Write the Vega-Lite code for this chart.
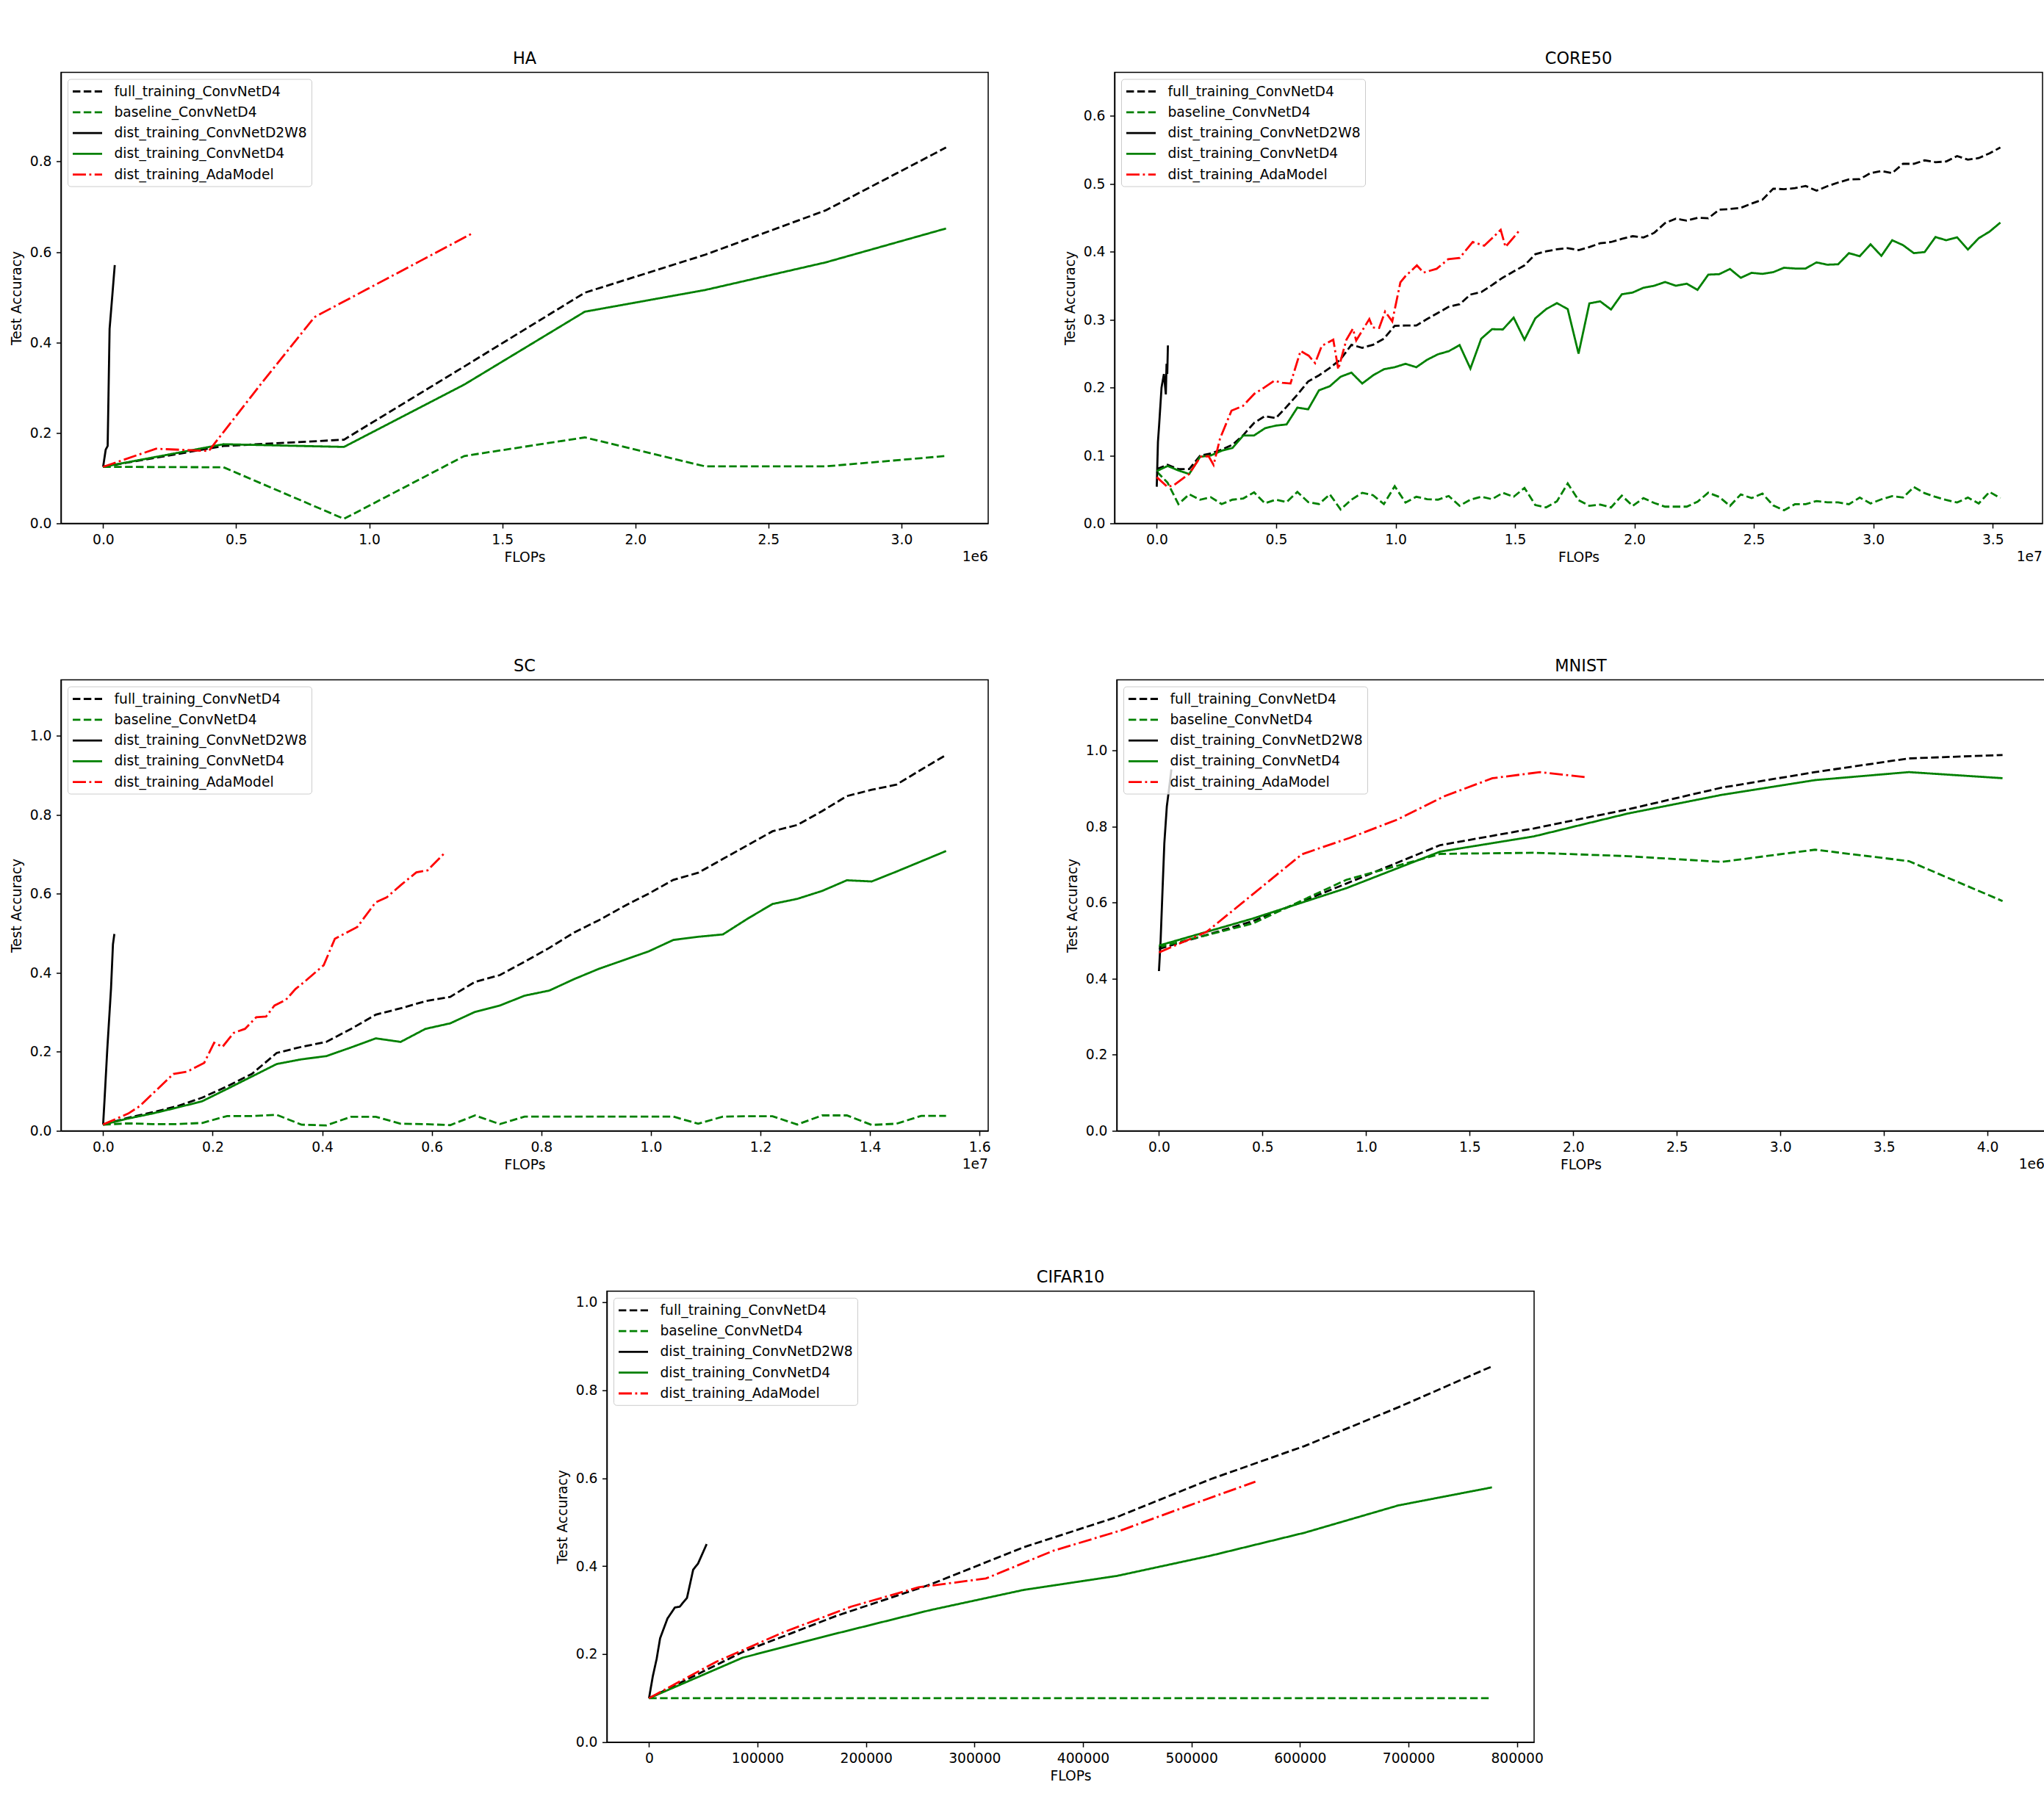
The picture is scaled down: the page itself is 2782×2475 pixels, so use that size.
{
"$schema": "https://vega.github.io/schema/vega-lite/v6.json",
"padding": {"left": 12, "top": 67.5, "right": 0, "bottom": 0},
"background": "#ffffff",
"datasets": {
"ha": [
{"s":"full_training_ConvNetD4","x":0,"y":0.125},{"s":"full_training_ConvNetD4","x":452500,"y":0.171},{"s":"full_training_ConvNetD4","x":905000,"y":0.185},{"s":"full_training_ConvNetD4","x":1357500,"y":0.347},{"s":"full_training_ConvNetD4","x":1810000,"y":0.510},{"s":"full_training_ConvNetD4","x":2262500,"y":0.594},{"s":"full_training_ConvNetD4","x":2715000,"y":0.692},{"s":"full_training_ConvNetD4","x":3167500,"y":0.831},
{"s":"baseline_ConvNetD4","x":0,"y":0.125},{"s":"baseline_ConvNetD4","x":452500,"y":0.124},{"s":"baseline_ConvNetD4","x":905000,"y":0.010},{"s":"baseline_ConvNetD4","x":1357500,"y":0.149},{"s":"baseline_ConvNetD4","x":1810000,"y":0.190},{"s":"baseline_ConvNetD4","x":2262500,"y":0.126},{"s":"baseline_ConvNetD4","x":2715000,"y":0.126},{"s":"baseline_ConvNetD4","x":3167500,"y":0.149},
{"s":"dist_training_ConvNetD2W8","x":0,"y":0.125},{"s":"dist_training_ConvNetD2W8","x":9700,"y":0.163},{"s":"dist_training_ConvNetD2W8","x":17000,"y":0.171},{"s":"dist_training_ConvNetD2W8","x":24300,"y":0.43},{"s":"dist_training_ConvNetD2W8","x":34000,"y":0.5},{"s":"dist_training_ConvNetD2W8","x":43700,"y":0.571},
{"s":"dist_training_ConvNetD4","x":0,"y":0.125},{"s":"dist_training_ConvNetD4","x":452500,"y":0.175},{"s":"dist_training_ConvNetD4","x":905000,"y":0.169},{"s":"dist_training_ConvNetD4","x":1357500,"y":0.307},{"s":"dist_training_ConvNetD4","x":1810000,"y":0.468},{"s":"dist_training_ConvNetD4","x":2262500,"y":0.516},{"s":"dist_training_ConvNetD4","x":2715000,"y":0.577},{"s":"dist_training_ConvNetD4","x":3167500,"y":0.652},
{"s":"dist_training_AdaModel","x":0,"y":0.125},{"s":"dist_training_AdaModel","x":198500,"y":0.165},{"s":"dist_training_AdaModel","x":397000,"y":0.160},{"s":"dist_training_AdaModel","x":595500,"y":0.310},{"s":"dist_training_AdaModel","x":794000,"y":0.456},{"s":"dist_training_AdaModel","x":992500,"y":0.518},{"s":"dist_training_AdaModel","x":1191000,"y":0.580},{"s":"dist_training_AdaModel","x":1389500,"y":0.642}
],
"core50": [
{"s":"full_training_ConvNetD4","x":0,"y":0.080},{"s":"full_training_ConvNetD4","x":452800,"y":0.0863},{"s":"full_training_ConvNetD4","x":905600,"y":0.080},{"s":"full_training_ConvNetD4","x":1358400,"y":0.080},{"s":"full_training_ConvNetD4","x":1811200,"y":0.0996},{"s":"full_training_ConvNetD4","x":2264000,"y":0.103},{"s":"full_training_ConvNetD4","x":2716800,"y":0.1086},{"s":"full_training_ConvNetD4","x":3169600,"y":0.1158},{"s":"full_training_ConvNetD4","x":3622400,"y":0.130},{"s":"full_training_ConvNetD4","x":4075200,"y":0.148},{"s":"full_training_ConvNetD4","x":4528000,"y":0.158},{"s":"full_training_ConvNetD4","x":4980800,"y":0.155},{"s":"full_training_ConvNetD4","x":5433600,"y":0.1716},{"s":"full_training_ConvNetD4","x":5886400,"y":0.1896},{"s":"full_training_ConvNetD4","x":6339200,"y":0.209},{"s":"full_training_ConvNetD4","x":6792000,"y":0.218},{"s":"full_training_ConvNetD4","x":7244800,"y":0.229},{"s":"full_training_ConvNetD4","x":7697600,"y":0.2417},{"s":"full_training_ConvNetD4","x":8150400,"y":0.263},{"s":"full_training_ConvNetD4","x":8603200,"y":0.2586},{"s":"full_training_ConvNetD4","x":9056000,"y":0.263},{"s":"full_training_ConvNetD4","x":9508800,"y":0.272},{"s":"full_training_ConvNetD4","x":9961600,"y":0.291},{"s":"full_training_ConvNetD4","x":10414400,"y":0.2914},{"s":"full_training_ConvNetD4","x":10867200,"y":0.2914},{"s":"full_training_ConvNetD4","x":11320000,"y":0.301},{"s":"full_training_ConvNetD4","x":11772800,"y":0.310},{"s":"full_training_ConvNetD4","x":12225600,"y":0.319},{"s":"full_training_ConvNetD4","x":12678400,"y":0.3227},{"s":"full_training_ConvNetD4","x":13131200,"y":0.337},{"s":"full_training_ConvNetD4","x":13584000,"y":0.3406},{"s":"full_training_ConvNetD4","x":14036800,"y":0.351},{"s":"full_training_ConvNetD4","x":14489600,"y":0.362},{"s":"full_training_ConvNetD4","x":14942400,"y":0.371},{"s":"full_training_ConvNetD4","x":15395200,"y":0.380},{"s":"full_training_ConvNetD4","x":15848000,"y":0.3964},{"s":"full_training_ConvNetD4","x":16300800,"y":0.4007},{"s":"full_training_ConvNetD4","x":16753600,"y":0.4036},{"s":"full_training_ConvNetD4","x":17206400,"y":0.4054},{"s":"full_training_ConvNetD4","x":17659200,"y":0.4025},{"s":"full_training_ConvNetD4","x":18112000,"y":0.407},{"s":"full_training_ConvNetD4","x":18564800,"y":0.4126},{"s":"full_training_ConvNetD4","x":19017600,"y":0.4144},{"s":"full_training_ConvNetD4","x":19470400,"y":0.419},{"s":"full_training_ConvNetD4","x":19923200,"y":0.423},{"s":"full_training_ConvNetD4","x":20376000,"y":0.421},{"s":"full_training_ConvNetD4","x":20828800,"y":0.428},{"s":"full_training_ConvNetD4","x":21281600,"y":0.4423},{"s":"full_training_ConvNetD4","x":21734400,"y":0.4488},{"s":"full_training_ConvNetD4","x":22187200,"y":0.446},{"s":"full_training_ConvNetD4","x":22640000,"y":0.450},{"s":"full_training_ConvNetD4","x":23092800,"y":0.4495},{"s":"full_training_ConvNetD4","x":23545600,"y":0.462},{"s":"full_training_ConvNetD4","x":23998400,"y":0.463},{"s":"full_training_ConvNetD4","x":24451200,"y":0.4647},{"s":"full_training_ConvNetD4","x":24904000,"y":0.471},{"s":"full_training_ConvNetD4","x":25356800,"y":0.4767},{"s":"full_training_ConvNetD4","x":25809600,"y":0.493},{"s":"full_training_ConvNetD4","x":26262400,"y":0.4922},{"s":"full_training_ConvNetD4","x":26715200,"y":0.4937},{"s":"full_training_ConvNetD4","x":27168000,"y":0.497},{"s":"full_training_ConvNetD4","x":27620800,"y":0.490},{"s":"full_training_ConvNetD4","x":28073600,"y":0.4966},{"s":"full_training_ConvNetD4","x":28526400,"y":0.502},{"s":"full_training_ConvNetD4","x":28979200,"y":0.5066},{"s":"full_training_ConvNetD4","x":29432000,"y":0.507},{"s":"full_training_ConvNetD4","x":29884800,"y":0.516},{"s":"full_training_ConvNetD4","x":30337600,"y":0.519},{"s":"full_training_ConvNetD4","x":30790400,"y":0.516},{"s":"full_training_ConvNetD4","x":31243200,"y":0.5296},{"s":"full_training_ConvNetD4","x":31696000,"y":0.5296},{"s":"full_training_ConvNetD4","x":32148800,"y":0.5347},{"s":"full_training_ConvNetD4","x":32601600,"y":0.532},{"s":"full_training_ConvNetD4","x":33054400,"y":0.533},{"s":"full_training_ConvNetD4","x":33507200,"y":0.541},{"s":"full_training_ConvNetD4","x":33960000,"y":0.5357},{"s":"full_training_ConvNetD4","x":34412800,"y":0.538},{"s":"full_training_ConvNetD4","x":34865600,"y":0.545},{"s":"full_training_ConvNetD4","x":35318400,"y":0.5536},
{"s":"baseline_ConvNetD4","x":0,"y":0.0763},{"s":"baseline_ConvNetD4","x":452800,"y":0.060},{"s":"baseline_ConvNetD4","x":905600,"y":0.0284},{"s":"baseline_ConvNetD4","x":1358400,"y":0.0428},{"s":"baseline_ConvNetD4","x":1811200,"y":0.0349},{"s":"baseline_ConvNetD4","x":2264000,"y":0.0385},{"s":"baseline_ConvNetD4","x":2716800,"y":0.0284},{"s":"baseline_ConvNetD4","x":3169600,"y":0.0349},{"s":"baseline_ConvNetD4","x":3622400,"y":0.0367},{"s":"baseline_ConvNetD4","x":4075200,"y":0.0457},{"s":"baseline_ConvNetD4","x":4528000,"y":0.0295},{"s":"baseline_ConvNetD4","x":4980800,"y":0.0349},{"s":"baseline_ConvNetD4","x":5433600,"y":0.0313},{"s":"baseline_ConvNetD4","x":5886400,"y":0.0464},{"s":"baseline_ConvNetD4","x":6339200,"y":0.0313},{"s":"baseline_ConvNetD4","x":6792000,"y":0.0284},{"s":"baseline_ConvNetD4","x":7244800,"y":0.0428},{"s":"baseline_ConvNetD4","x":7697600,"y":0.0205},{"s":"baseline_ConvNetD4","x":8150400,"y":0.0349},{"s":"baseline_ConvNetD4","x":8603200,"y":0.045},{"s":"baseline_ConvNetD4","x":9056000,"y":0.0414},{"s":"baseline_ConvNetD4","x":9508800,"y":0.0284},{"s":"baseline_ConvNetD4","x":9961600,"y":0.0547},{"s":"baseline_ConvNetD4","x":10414400,"y":0.0306},{"s":"baseline_ConvNetD4","x":10867200,"y":0.0392},{"s":"baseline_ConvNetD4","x":11320000,"y":0.0356},{"s":"baseline_ConvNetD4","x":11772800,"y":0.0349},{"s":"baseline_ConvNetD4","x":12225600,"y":0.0403},{"s":"baseline_ConvNetD4","x":12678400,"y":0.0259},{"s":"baseline_ConvNetD4","x":13131200,"y":0.0349},{"s":"baseline_ConvNetD4","x":13584000,"y":0.0392},{"s":"baseline_ConvNetD4","x":14036800,"y":0.0356},{"s":"baseline_ConvNetD4","x":14489600,"y":0.045},{"s":"baseline_ConvNetD4","x":14942400,"y":0.0392},{"s":"baseline_ConvNetD4","x":15395200,"y":0.0522},{"s":"baseline_ConvNetD4","x":15848000,"y":0.0270},{"s":"baseline_ConvNetD4","x":16300800,"y":0.0235},{"s":"baseline_ConvNetD4","x":16753600,"y":0.0325},{"s":"baseline_ConvNetD4","x":17206400,"y":0.0587},{"s":"baseline_ConvNetD4","x":17659200,"y":0.0342},{"s":"baseline_ConvNetD4","x":18112000,"y":0.0258},{"s":"baseline_ConvNetD4","x":18564800,"y":0.0277},{"s":"baseline_ConvNetD4","x":19017600,"y":0.0234},{"s":"baseline_ConvNetD4","x":19470400,"y":0.0409},{"s":"baseline_ConvNetD4","x":19923200,"y":0.0257},{"s":"baseline_ConvNetD4","x":20376000,"y":0.0372},{"s":"baseline_ConvNetD4","x":20828800,"y":0.030},{"s":"baseline_ConvNetD4","x":21281600,"y":0.0246},{"s":"baseline_ConvNetD4","x":21734400,"y":0.0246},{"s":"baseline_ConvNetD4","x":22187200,"y":0.0246},{"s":"baseline_ConvNetD4","x":22640000,"y":0.0318},{"s":"baseline_ConvNetD4","x":23092800,"y":0.0452},{"s":"baseline_ConvNetD4","x":23545600,"y":0.039},{"s":"baseline_ConvNetD4","x":23998400,"y":0.0257},{"s":"baseline_ConvNetD4","x":24451200,"y":0.0427},{"s":"baseline_ConvNetD4","x":24904000,"y":0.0372},{"s":"baseline_ConvNetD4","x":25356800,"y":0.0438},{"s":"baseline_ConvNetD4","x":25809600,"y":0.0264},{"s":"baseline_ConvNetD4","x":26262400,"y":0.0192},{"s":"baseline_ConvNetD4","x":26715200,"y":0.0282},{"s":"baseline_ConvNetD4","x":27168000,"y":0.0282},{"s":"baseline_ConvNetD4","x":27620800,"y":0.0329},{"s":"baseline_ConvNetD4","x":28073600,"y":0.031},{"s":"baseline_ConvNetD4","x":28526400,"y":0.031},{"s":"baseline_ConvNetD4","x":28979200,"y":0.0282},{"s":"baseline_ConvNetD4","x":29432000,"y":0.038},{"s":"baseline_ConvNetD4","x":29884800,"y":0.0293},{"s":"baseline_ConvNetD4","x":30337600,"y":0.0354},{"s":"baseline_ConvNetD4","x":30790400,"y":0.0401},{"s":"baseline_ConvNetD4","x":31243200,"y":0.038},{"s":"baseline_ConvNetD4","x":31696000,"y":0.0535},{"s":"baseline_ConvNetD4","x":32148800,"y":0.0445},{"s":"baseline_ConvNetD4","x":32601600,"y":0.039},{"s":"baseline_ConvNetD4","x":33054400,"y":0.0344},{"s":"baseline_ConvNetD4","x":33507200,"y":0.0307},{"s":"baseline_ConvNetD4","x":33960000,"y":0.038},{"s":"baseline_ConvNetD4","x":34412800,"y":0.0293},{"s":"baseline_ConvNetD4","x":34865600,"y":0.0463},{"s":"baseline_ConvNetD4","x":35318400,"y":0.0372},
{"s":"dist_training_ConvNetD2W8","x":0,"y":0.054},{"s":"dist_training_ConvNetD2W8","x":50000,"y":0.12},{"s":"dist_training_ConvNetD2W8","x":100000,"y":0.145},{"s":"dist_training_ConvNetD2W8","x":200000,"y":0.2},{"s":"dist_training_ConvNetD2W8","x":300000,"y":0.22},{"s":"dist_training_ConvNetD2W8","x":380000,"y":0.19},{"s":"dist_training_ConvNetD2W8","x":410000,"y":0.235},{"s":"dist_training_ConvNetD2W8","x":440000,"y":0.22},{"s":"dist_training_ConvNetD2W8","x":467000,"y":0.262},
{"s":"dist_training_ConvNetD4","x":0,"y":0.077},{"s":"dist_training_ConvNetD4","x":452800,"y":0.0845},{"s":"dist_training_ConvNetD4","x":905600,"y":0.078},{"s":"dist_training_ConvNetD4","x":1358400,"y":0.0727},{"s":"dist_training_ConvNetD4","x":1811200,"y":0.098},{"s":"dist_training_ConvNetD4","x":2264000,"y":0.100},{"s":"dist_training_ConvNetD4","x":2716800,"y":0.107},{"s":"dist_training_ConvNetD4","x":3169600,"y":0.111},{"s":"dist_training_ConvNetD4","x":3622400,"y":0.1295},{"s":"dist_training_ConvNetD4","x":4075200,"y":0.1295},{"s":"dist_training_ConvNetD4","x":4528000,"y":0.140},{"s":"dist_training_ConvNetD4","x":4980800,"y":0.144},{"s":"dist_training_ConvNetD4","x":5433600,"y":0.1457},{"s":"dist_training_ConvNetD4","x":5886400,"y":0.1705},{"s":"dist_training_ConvNetD4","x":6339200,"y":0.168},{"s":"dist_training_ConvNetD4","x":6792000,"y":0.196},{"s":"dist_training_ConvNetD4","x":7244800,"y":0.202},{"s":"dist_training_ConvNetD4","x":7697600,"y":0.216},{"s":"dist_training_ConvNetD4","x":8150400,"y":0.222},{"s":"dist_training_ConvNetD4","x":8603200,"y":0.206},{"s":"dist_training_ConvNetD4","x":9056000,"y":0.218},{"s":"dist_training_ConvNetD4","x":9508800,"y":0.227},{"s":"dist_training_ConvNetD4","x":9961600,"y":0.230},{"s":"dist_training_ConvNetD4","x":10414400,"y":0.235},{"s":"dist_training_ConvNetD4","x":10867200,"y":0.230},{"s":"dist_training_ConvNetD4","x":11320000,"y":0.241},{"s":"dist_training_ConvNetD4","x":11772800,"y":0.249},{"s":"dist_training_ConvNetD4","x":12225600,"y":0.2536},{"s":"dist_training_ConvNetD4","x":12678400,"y":0.2626},{"s":"dist_training_ConvNetD4","x":13131200,"y":0.228},{"s":"dist_training_ConvNetD4","x":13584000,"y":0.272},{"s":"dist_training_ConvNetD4","x":14036800,"y":0.286},{"s":"dist_training_ConvNetD4","x":14489600,"y":0.2856},{"s":"dist_training_ConvNetD4","x":14942400,"y":0.303},{"s":"dist_training_ConvNetD4","x":15395200,"y":0.2705},{"s":"dist_training_ConvNetD4","x":15848000,"y":0.302},{"s":"dist_training_ConvNetD4","x":16300800,"y":0.3155},{"s":"dist_training_ConvNetD4","x":16753600,"y":0.3245},{"s":"dist_training_ConvNetD4","x":17206400,"y":0.3155},{"s":"dist_training_ConvNetD4","x":17659200,"y":0.25},{"s":"dist_training_ConvNetD4","x":18112000,"y":0.324},{"s":"dist_training_ConvNetD4","x":18564800,"y":0.327},{"s":"dist_training_ConvNetD4","x":19017600,"y":0.315},{"s":"dist_training_ConvNetD4","x":19470400,"y":0.3374},{"s":"dist_training_ConvNetD4","x":19923200,"y":0.340},{"s":"dist_training_ConvNetD4","x":20376000,"y":0.347},{"s":"dist_training_ConvNetD4","x":20828800,"y":0.350},{"s":"dist_training_ConvNetD4","x":21281600,"y":0.3555},{"s":"dist_training_ConvNetD4","x":21734400,"y":0.350},{"s":"dist_training_ConvNetD4","x":22187200,"y":0.353},{"s":"dist_training_ConvNetD4","x":22640000,"y":0.344},{"s":"dist_training_ConvNetD4","x":23092800,"y":0.3664},{"s":"dist_training_ConvNetD4","x":23545600,"y":0.367},{"s":"dist_training_ConvNetD4","x":23998400,"y":0.3747},{"s":"dist_training_ConvNetD4","x":24451200,"y":0.3617},{"s":"dist_training_ConvNetD4","x":24904000,"y":0.369},{"s":"dist_training_ConvNetD4","x":25356800,"y":0.3675},{"s":"dist_training_ConvNetD4","x":25809600,"y":0.370},{"s":"dist_training_ConvNetD4","x":26262400,"y":0.3765},{"s":"dist_training_ConvNetD4","x":26715200,"y":0.3754},{"s":"dist_training_ConvNetD4","x":27168000,"y":0.3754},{"s":"dist_training_ConvNetD4","x":27620800,"y":0.3844},{"s":"dist_training_ConvNetD4","x":28073600,"y":0.381},{"s":"dist_training_ConvNetD4","x":28526400,"y":0.3816},{"s":"dist_training_ConvNetD4","x":28979200,"y":0.398},{"s":"dist_training_ConvNetD4","x":29432000,"y":0.3935},{"s":"dist_training_ConvNetD4","x":29884800,"y":0.411},{"s":"dist_training_ConvNetD4","x":30337600,"y":0.394},{"s":"dist_training_ConvNetD4","x":30790400,"y":0.417},{"s":"dist_training_ConvNetD4","x":31243200,"y":0.4098},{"s":"dist_training_ConvNetD4","x":31696000,"y":0.398},{"s":"dist_training_ConvNetD4","x":32148800,"y":0.3996},{"s":"dist_training_ConvNetD4","x":32601600,"y":0.4217},{"s":"dist_training_ConvNetD4","x":33054400,"y":0.417},{"s":"dist_training_ConvNetD4","x":33507200,"y":0.4213},{"s":"dist_training_ConvNetD4","x":33960000,"y":0.4033},{"s":"dist_training_ConvNetD4","x":34412800,"y":0.420},{"s":"dist_training_ConvNetD4","x":34865600,"y":0.4297},{"s":"dist_training_ConvNetD4","x":35318400,"y":0.443},
{"s":"dist_training_AdaModel","x":0,"y":0.068},{"s":"dist_training_AdaModel","x":453000,"y":0.0536},{"s":"dist_training_AdaModel","x":728000,"y":0.0565},{"s":"dist_training_AdaModel","x":1350000,"y":0.0727},{"s":"dist_training_AdaModel","x":1830000,"y":0.098},{"s":"dist_training_AdaModel","x":2170000,"y":0.099},{"s":"dist_training_AdaModel","x":2380000,"y":0.086},{"s":"dist_training_AdaModel","x":2650000,"y":0.125},{"s":"dist_training_AdaModel","x":3130000,"y":0.166},{"s":"dist_training_AdaModel","x":3610000,"y":0.173},{"s":"dist_training_AdaModel","x":4090000,"y":0.191},{"s":"dist_training_AdaModel","x":4500000,"y":0.200},{"s":"dist_training_AdaModel","x":4920000,"y":0.210},{"s":"dist_training_AdaModel","x":5260000,"y":0.207},{"s":"dist_training_AdaModel","x":5600000,"y":0.206},{"s":"dist_training_AdaModel","x":6020000,"y":0.254},{"s":"dist_training_AdaModel","x":6360000,"y":0.247},{"s":"dist_training_AdaModel","x":6630000,"y":0.236},{"s":"dist_training_AdaModel","x":6910000,"y":0.2615},{"s":"dist_training_AdaModel","x":7390000,"y":0.2705},{"s":"dist_training_AdaModel","x":7600000,"y":0.227},{"s":"dist_training_AdaModel","x":7940000,"y":0.2705},{"s":"dist_training_AdaModel","x":8210000,"y":0.2867},{"s":"dist_training_AdaModel","x":8350000,"y":0.2694},{"s":"dist_training_AdaModel","x":8900000,"y":0.301},{"s":"dist_training_AdaModel","x":9040000,"y":0.2885},{"s":"dist_training_AdaModel","x":9310000,"y":0.2878},{"s":"dist_training_AdaModel","x":9560000,"y":0.312},{"s":"dist_training_AdaModel","x":9860000,"y":0.2975},{"s":"dist_training_AdaModel","x":10200000,"y":0.355},{"s":"dist_training_AdaModel","x":10410000,"y":0.364},{"s":"dist_training_AdaModel","x":10890000,"y":0.380},{"s":"dist_training_AdaModel","x":11170000,"y":0.3694},{"s":"dist_training_AdaModel","x":11720000,"y":0.375},{"s":"dist_training_AdaModel","x":12200000,"y":0.389},{"s":"dist_training_AdaModel","x":12680000,"y":0.391},{"s":"dist_training_AdaModel","x":13230000,"y":0.4144},{"s":"dist_training_AdaModel","x":13710000,"y":0.409},{"s":"dist_training_AdaModel","x":14120000,"y":0.4227},{"s":"dist_training_AdaModel","x":14400000,"y":0.4324},{"s":"dist_training_AdaModel","x":14600000,"y":0.4072},{"s":"dist_training_AdaModel","x":14950000,"y":0.4216},{"s":"dist_training_AdaModel","x":15190000,"y":0.4317}
],
"sc": [
{"s":"full_training_ConvNetD4","x":0,"y":0.0156},{"s":"full_training_ConvNetD4","x":452600,"y":0.033},{"s":"full_training_ConvNetD4","x":905200,"y":0.047},{"s":"full_training_ConvNetD4","x":1357800,"y":0.0625},{"s":"full_training_ConvNetD4","x":1810400,"y":0.084},{"s":"full_training_ConvNetD4","x":2263000,"y":0.1125},{"s":"full_training_ConvNetD4","x":2715600,"y":0.144},{"s":"full_training_ConvNetD4","x":3168200,"y":0.197},{"s":"full_training_ConvNetD4","x":3620800,"y":0.2125},{"s":"full_training_ConvNetD4","x":4073400,"y":0.225},{"s":"full_training_ConvNetD4","x":4526000,"y":0.258},{"s":"full_training_ConvNetD4","x":4978600,"y":0.294},{"s":"full_training_ConvNetD4","x":5431200,"y":0.31},{"s":"full_training_ConvNetD4","x":5883800,"y":0.328},{"s":"full_training_ConvNetD4","x":6336400,"y":0.339},{"s":"full_training_ConvNetD4","x":6789000,"y":0.377},{"s":"full_training_ConvNetD4","x":7241600,"y":0.394},{"s":"full_training_ConvNetD4","x":7694200,"y":0.428},{"s":"full_training_ConvNetD4","x":8146800,"y":0.463},{"s":"full_training_ConvNetD4","x":8599400,"y":0.502},{"s":"full_training_ConvNetD4","x":9052000,"y":0.533},{"s":"full_training_ConvNetD4","x":9504600,"y":0.568},{"s":"full_training_ConvNetD4","x":9957200,"y":0.600},{"s":"full_training_ConvNetD4","x":10409800,"y":0.635},{"s":"full_training_ConvNetD4","x":10862400,"y":0.653},{"s":"full_training_ConvNetD4","x":11315000,"y":0.688},{"s":"full_training_ConvNetD4","x":11767600,"y":0.723},{"s":"full_training_ConvNetD4","x":12220200,"y":0.758},{"s":"full_training_ConvNetD4","x":12672800,"y":0.774},{"s":"full_training_ConvNetD4","x":13125400,"y":0.809},{"s":"full_training_ConvNetD4","x":13578000,"y":0.847},{"s":"full_training_ConvNetD4","x":14030600,"y":0.863},{"s":"full_training_ConvNetD4","x":14483200,"y":0.876},{"s":"full_training_ConvNetD4","x":14935800,"y":0.914},{"s":"full_training_ConvNetD4","x":15388400,"y":0.951},
{"s":"baseline_ConvNetD4","x":0,"y":0.0156},{"s":"baseline_ConvNetD4","x":452600,"y":0.019},{"s":"baseline_ConvNetD4","x":905200,"y":0.017},{"s":"baseline_ConvNetD4","x":1357800,"y":0.017},{"s":"baseline_ConvNetD4","x":1810400,"y":0.02},{"s":"baseline_ConvNetD4","x":2263000,"y":0.0375},{"s":"baseline_ConvNetD4","x":2715600,"y":0.0375},{"s":"baseline_ConvNetD4","x":3168200,"y":0.0406},{"s":"baseline_ConvNetD4","x":3620800,"y":0.0156},{"s":"baseline_ConvNetD4","x":4073400,"y":0.0138},{"s":"baseline_ConvNetD4","x":4526000,"y":0.0356},{"s":"baseline_ConvNetD4","x":4978600,"y":0.0356},{"s":"baseline_ConvNetD4","x":5431200,"y":0.018},{"s":"baseline_ConvNetD4","x":5883800,"y":0.017},{"s":"baseline_ConvNetD4","x":6336400,"y":0.0144},{"s":"baseline_ConvNetD4","x":6789000,"y":0.039},{"s":"baseline_ConvNetD4","x":7241600,"y":0.017},{"s":"baseline_ConvNetD4","x":7694200,"y":0.036},{"s":"baseline_ConvNetD4","x":8146800,"y":0.036},{"s":"baseline_ConvNetD4","x":8599400,"y":0.036},{"s":"baseline_ConvNetD4","x":9052000,"y":0.036},{"s":"baseline_ConvNetD4","x":9504600,"y":0.036},{"s":"baseline_ConvNetD4","x":9957200,"y":0.036},{"s":"baseline_ConvNetD4","x":10409800,"y":0.036},{"s":"baseline_ConvNetD4","x":10862400,"y":0.018},{"s":"baseline_ConvNetD4","x":11315000,"y":0.036},{"s":"baseline_ConvNetD4","x":11767600,"y":0.037},{"s":"baseline_ConvNetD4","x":12220200,"y":0.037},{"s":"baseline_ConvNetD4","x":12672800,"y":0.016},{"s":"baseline_ConvNetD4","x":13125400,"y":0.039},{"s":"baseline_ConvNetD4","x":13578000,"y":0.039},{"s":"baseline_ConvNetD4","x":14030600,"y":0.015},{"s":"baseline_ConvNetD4","x":14483200,"y":0.018},{"s":"baseline_ConvNetD4","x":14935800,"y":0.038},{"s":"baseline_ConvNetD4","x":15388400,"y":0.038},
{"s":"dist_training_ConvNetD2W8","x":0,"y":0.016},{"s":"dist_training_ConvNetD2W8","x":25600,"y":0.078},{"s":"dist_training_ConvNetD2W8","x":76900,"y":0.209},{"s":"dist_training_ConvNetD2W8","x":143600,"y":0.359},{"s":"dist_training_ConvNetD2W8","x":179500,"y":0.472},{"s":"dist_training_ConvNetD2W8","x":205000,"y":0.498},
{"s":"dist_training_ConvNetD4","x":0,"y":0.0156},{"s":"dist_training_ConvNetD4","x":452600,"y":0.031},{"s":"dist_training_ConvNetD4","x":905200,"y":0.044},{"s":"dist_training_ConvNetD4","x":1357800,"y":0.059},{"s":"dist_training_ConvNetD4","x":1810400,"y":0.075},{"s":"dist_training_ConvNetD4","x":2263000,"y":0.106},{"s":"dist_training_ConvNetD4","x":2715600,"y":0.1375},{"s":"dist_training_ConvNetD4","x":3168200,"y":0.169},{"s":"dist_training_ConvNetD4","x":3620800,"y":0.181},{"s":"dist_training_ConvNetD4","x":4073400,"y":0.189},{"s":"dist_training_ConvNetD4","x":4526000,"y":0.211},{"s":"dist_training_ConvNetD4","x":4978600,"y":0.234},{"s":"dist_training_ConvNetD4","x":5431200,"y":0.225},{"s":"dist_training_ConvNetD4","x":5883800,"y":0.258},{"s":"dist_training_ConvNetD4","x":6336400,"y":0.272},{"s":"dist_training_ConvNetD4","x":6789000,"y":0.301},{"s":"dist_training_ConvNetD4","x":7241600,"y":0.317},{"s":"dist_training_ConvNetD4","x":7694200,"y":0.342},{"s":"dist_training_ConvNetD4","x":8146800,"y":0.355},{"s":"dist_training_ConvNetD4","x":8599400,"y":0.384},{"s":"dist_training_ConvNetD4","x":9052000,"y":0.41},{"s":"dist_training_ConvNetD4","x":9504600,"y":0.432},{"s":"dist_training_ConvNetD4","x":9957200,"y":0.454},{"s":"dist_training_ConvNetD4","x":10409800,"y":0.483},{"s":"dist_training_ConvNetD4","x":10862400,"y":0.491},{"s":"dist_training_ConvNetD4","x":11315000,"y":0.497},{"s":"dist_training_ConvNetD4","x":11767600,"y":0.537},{"s":"dist_training_ConvNetD4","x":12220200,"y":0.574},{"s":"dist_training_ConvNetD4","x":12672800,"y":0.587},{"s":"dist_training_ConvNetD4","x":13125400,"y":0.607},{"s":"dist_training_ConvNetD4","x":13578000,"y":0.634},{"s":"dist_training_ConvNetD4","x":14030600,"y":0.631},{"s":"dist_training_ConvNetD4","x":14483200,"y":0.656},{"s":"dist_training_ConvNetD4","x":14935800,"y":0.682},{"s":"dist_training_ConvNetD4","x":15388400,"y":0.708},
{"s":"dist_training_AdaModel","x":0,"y":0.016},{"s":"dist_training_AdaModel","x":462000,"y":0.044},{"s":"dist_training_AdaModel","x":667000,"y":0.0625},{"s":"dist_training_AdaModel","x":1282000,"y":0.144},{"s":"dist_training_AdaModel","x":1538000,"y":0.150},{"s":"dist_training_AdaModel","x":1846000,"y":0.172},{"s":"dist_training_AdaModel","x":2026000,"y":0.223},{"s":"dist_training_AdaModel","x":2179000,"y":0.2125},{"s":"dist_training_AdaModel","x":2385000,"y":0.248},{"s":"dist_training_AdaModel","x":2590000,"y":0.258},{"s":"dist_training_AdaModel","x":2795000,"y":0.2875},{"s":"dist_training_AdaModel","x":2974000,"y":0.289},{"s":"dist_training_AdaModel","x":3128000,"y":0.317},{"s":"dist_training_AdaModel","x":3333000,"y":0.331},{"s":"dist_training_AdaModel","x":3513000,"y":0.359},{"s":"dist_training_AdaModel","x":3692000,"y":0.379},{"s":"dist_training_AdaModel","x":4026000,"y":0.419},{"s":"dist_training_AdaModel","x":4231000,"y":0.486},{"s":"dist_training_AdaModel","x":4641000,"y":0.516},{"s":"dist_training_AdaModel","x":4974000,"y":0.578},{"s":"dist_training_AdaModel","x":5179000,"y":0.591},{"s":"dist_training_AdaModel","x":5436000,"y":0.622},{"s":"dist_training_AdaModel","x":5718000,"y":0.654},{"s":"dist_training_AdaModel","x":5923000,"y":0.659},{"s":"dist_training_AdaModel","x":6256000,"y":0.706}
],
"mnist": [
{"s":"full_training_ConvNetD4","x":0,"y":0.478},{"s":"full_training_ConvNetD4","x":452500,"y":0.551},{"s":"full_training_ConvNetD4","x":905000,"y":0.650},{"s":"full_training_ConvNetD4","x":1357500,"y":0.751},{"s":"full_training_ConvNetD4","x":1810000,"y":0.795},{"s":"full_training_ConvNetD4","x":2262500,"y":0.845},{"s":"full_training_ConvNetD4","x":2715000,"y":0.902},{"s":"full_training_ConvNetD4","x":3167500,"y":0.943},{"s":"full_training_ConvNetD4","x":3620000,"y":0.979},{"s":"full_training_ConvNetD4","x":4072500,"y":0.988},
{"s":"baseline_ConvNetD4","x":0,"y":0.483},{"s":"baseline_ConvNetD4","x":452500,"y":0.545},{"s":"baseline_ConvNetD4","x":905000,"y":0.660},{"s":"baseline_ConvNetD4","x":1357500,"y":0.728},{"s":"baseline_ConvNetD4","x":1810000,"y":0.731},{"s":"baseline_ConvNetD4","x":2262500,"y":0.722},{"s":"baseline_ConvNetD4","x":2715000,"y":0.707},{"s":"baseline_ConvNetD4","x":3167500,"y":0.739},{"s":"baseline_ConvNetD4","x":3620000,"y":0.709},{"s":"baseline_ConvNetD4","x":4072500,"y":0.604},
{"s":"dist_training_ConvNetD2W8","x":0,"y":0.42},{"s":"dist_training_ConvNetD2W8","x":8000,"y":0.5},{"s":"dist_training_ConvNetD2W8","x":17000,"y":0.63},{"s":"dist_training_ConvNetD2W8","x":26000,"y":0.756},{"s":"dist_training_ConvNetD2W8","x":38000,"y":0.853},{"s":"dist_training_ConvNetD2W8","x":49000,"y":0.9},{"s":"dist_training_ConvNetD2W8","x":60000,"y":0.95},
{"s":"dist_training_ConvNetD4","x":0,"y":0.487},{"s":"dist_training_ConvNetD4","x":452500,"y":0.558},{"s":"dist_training_ConvNetD4","x":905000,"y":0.638},{"s":"dist_training_ConvNetD4","x":1357500,"y":0.734},{"s":"dist_training_ConvNetD4","x":1810000,"y":0.774},{"s":"dist_training_ConvNetD4","x":2262500,"y":0.834},{"s":"dist_training_ConvNetD4","x":2715000,"y":0.883},{"s":"dist_training_ConvNetD4","x":3167500,"y":0.922},{"s":"dist_training_ConvNetD4","x":3620000,"y":0.943},{"s":"dist_training_ConvNetD4","x":4072500,"y":0.927},
{"s":"dist_training_AdaModel","x":0,"y":0.469},{"s":"dist_training_AdaModel","x":230000,"y":0.523},{"s":"dist_training_AdaModel","x":460000,"y":0.625},{"s":"dist_training_AdaModel","x":690000,"y":0.727},{"s":"dist_training_AdaModel","x":920000,"y":0.770},{"s":"dist_training_AdaModel","x":1150000,"y":0.818},{"s":"dist_training_AdaModel","x":1380000,"y":0.880},{"s":"dist_training_AdaModel","x":1610000,"y":0.927},{"s":"dist_training_AdaModel","x":1840000,"y":0.943},{"s":"dist_training_AdaModel","x":2070000,"y":0.929}
],
"cifar": [
{"s":"full_training_ConvNetD4","x":0,"y":0.100},{"s":"full_training_ConvNetD4","x":86330,"y":0.205},{"s":"full_training_ConvNetD4","x":172660,"y":0.287},{"s":"full_training_ConvNetD4","x":258990,"y":0.358},{"s":"full_training_ConvNetD4","x":345320,"y":0.443},{"s":"full_training_ConvNetD4","x":431650,"y":0.512},{"s":"full_training_ConvNetD4","x":517980,"y":0.598},{"s":"full_training_ConvNetD4","x":604310,"y":0.673},{"s":"full_training_ConvNetD4","x":690640,"y":0.761},{"s":"full_training_ConvNetD4","x":776970,"y":0.854},
{"s":"baseline_ConvNetD4","x":0,"y":0.1},{"s":"baseline_ConvNetD4","x":86330,"y":0.1},{"s":"baseline_ConvNetD4","x":172660,"y":0.1},{"s":"baseline_ConvNetD4","x":258990,"y":0.1},{"s":"baseline_ConvNetD4","x":345320,"y":0.1},{"s":"baseline_ConvNetD4","x":431650,"y":0.1},{"s":"baseline_ConvNetD4","x":517980,"y":0.1},{"s":"baseline_ConvNetD4","x":604310,"y":0.1},{"s":"baseline_ConvNetD4","x":690640,"y":0.1},{"s":"baseline_ConvNetD4","x":776970,"y":0.1},
{"s":"dist_training_ConvNetD2W8","x":0,"y":0.1},{"s":"dist_training_ConvNetD2W8","x":3500,"y":0.15},{"s":"dist_training_ConvNetD2W8","x":7000,"y":0.189},{"s":"dist_training_ConvNetD2W8","x":10200,"y":0.236},{"s":"dist_training_ConvNetD2W8","x":17000,"y":0.281},{"s":"dist_training_ConvNetD2W8","x":23800,"y":0.306},{"s":"dist_training_ConvNetD2W8","x":28300,"y":0.308},{"s":"dist_training_ConvNetD2W8","x":35000,"y":0.328},{"s":"dist_training_ConvNetD2W8","x":40700,"y":0.392},{"s":"dist_training_ConvNetD2W8","x":45200,"y":0.406},{"s":"dist_training_ConvNetD2W8","x":53100,"y":0.45},
{"s":"dist_training_ConvNetD4","x":0,"y":0.100},{"s":"dist_training_ConvNetD4","x":86330,"y":0.192},{"s":"dist_training_ConvNetD4","x":172660,"y":0.247},{"s":"dist_training_ConvNetD4","x":258990,"y":0.300},{"s":"dist_training_ConvNetD4","x":345320,"y":0.346},{"s":"dist_training_ConvNetD4","x":431650,"y":0.378},{"s":"dist_training_ConvNetD4","x":517980,"y":0.424},{"s":"dist_training_ConvNetD4","x":604310,"y":0.476},{"s":"dist_training_ConvNetD4","x":690640,"y":0.538},{"s":"dist_training_ConvNetD4","x":776970,"y":0.579},
{"s":"dist_training_AdaModel","x":0,"y":0.100},{"s":"dist_training_AdaModel","x":62100,"y":0.183},{"s":"dist_training_AdaModel","x":124200,"y":0.250},{"s":"dist_training_AdaModel","x":186300,"y":0.308},{"s":"dist_training_AdaModel","x":248400,"y":0.352},{"s":"dist_training_AdaModel","x":310500,"y":0.372},{"s":"dist_training_AdaModel","x":372600,"y":0.435},{"s":"dist_training_AdaModel","x":434700,"y":0.481},{"s":"dist_training_AdaModel","x":496800,"y":0.537},{"s":"dist_training_AdaModel","x":558900,"y":0.592}
]
},
"vconcat": [
{"vconcat": [
{"hconcat": [
{"width":1262,"height":614,"title":"HA","layer":[
 {"data":{"name":"ha"},"mark":{"type":"line","strokeWidth":2.8},"encoding":{
  "x":{"field":"x","type":"quantitative","scale":{"domain":[-158375,3325875],"nice":false,"zero":false},"axis":{"title":"FLOPs","values":[0,500000,1000000,1500000,2000000,2500000,3000000],"labelExpr":"format(datum.value/1e6,'.1f')"}},
  "y":{"field":"y","type":"quantitative","scale":{"domain":[0,0.9972],"nice":false,"zero":false},"axis":{"title":"Test Accuracy","values":[0,0.2,0.4,0.6,0.8],"format":".1f"}},
  "color":{"field":"s","type":"nominal","scale":{"domain":["full_training_ConvNetD4","baseline_ConvNetD4","dist_training_ConvNetD2W8","dist_training_ConvNetD4","dist_training_AdaModel"],"range":["#000000","#008000","#000000","#008000","#ff0000"]},"legend":{"title":null}},
  "strokeDash":{"field":"s","type":"nominal","scale":{"domain":["full_training_ConvNetD4","baseline_ConvNetD4","dist_training_ConvNetD2W8","dist_training_ConvNetD4","dist_training_AdaModel"],"range":[[10.4,4.5],[10.4,4.5],[1,0],[1,0],[18,4.5,2.8,4.5]]},"legend":{"title":null}}}},
 {"data":{"values":[{"t":"1e6"}]},"mark":{"type":"text","align":"right","baseline":"top","dy":36,"fontSize":18.7,"color":"#000000"},"encoding":{"x":{"datum":3325875,"type":"quantitative"},"y":{"datum":0,"type":"quantitative"},"text":{"field":"t","type":"nominal"}}}
]},
{"width":1263,"height":614,"title":"CORE50","layer":[
 {"data":{"name":"core50"},"mark":{"type":"line","strokeWidth":2.8},"encoding":{
  "x":{"field":"x","type":"quantitative","scale":{"domain":[-1765920,37084320],"nice":false,"zero":false},"axis":{"title":"FLOPs","values":[0,5000000,10000000,15000000,20000000,25000000,30000000,35000000],"labelExpr":"format(datum.value/1e7,'.1f')"}},
  "y":{"field":"y","type":"quantitative","scale":{"domain":[0,0.6643],"nice":false,"zero":false},"axis":{"title":"Test Accuracy","values":[0,0.1,0.2,0.3,0.4,0.5,0.6],"format":".1f"}},
  "color":{"field":"s","type":"nominal","scale":{"domain":["full_training_ConvNetD4","baseline_ConvNetD4","dist_training_ConvNetD2W8","dist_training_ConvNetD4","dist_training_AdaModel"],"range":["#000000","#008000","#000000","#008000","#ff0000"]},"legend":{"title":null}},
  "strokeDash":{"field":"s","type":"nominal","scale":{"domain":["full_training_ConvNetD4","baseline_ConvNetD4","dist_training_ConvNetD2W8","dist_training_ConvNetD4","dist_training_AdaModel"],"range":[[10.4,4.5],[10.4,4.5],[1,0],[1,0],[18,4.5,2.8,4.5]]},"legend":{"title":null}}}},
 {"data":{"values":[{"t":"1e7"}]},"mark":{"type":"text","align":"right","baseline":"top","dy":36,"fontSize":18.7,"color":"#000000"},"encoding":{"x":{"datum":37084320,"type":"quantitative"},"y":{"datum":0,"type":"quantitative"},"text":{"field":"t","type":"nominal"}}}
]}
],"spacing":100,"resolve":{"scale":{"color":"independent","strokeDash":"independent"}}},
{"hconcat": [
{"width":1262,"height":614,"title":"SC","layer":[
 {"data":{"name":"sc"},"mark":{"type":"line","strokeWidth":2.8},"encoding":{
  "x":{"field":"x","type":"quantitative","scale":{"domain":[-769420,16157820],"nice":false,"zero":false},"axis":{"title":"FLOPs","values":[0,2000000,4000000,6000000,8000000,10000000,12000000,14000000,16000000],"labelExpr":"format(datum.value/1e7,'.1f')"}},
  "y":{"field":"y","type":"quantitative","scale":{"domain":[0,1.1412],"nice":false,"zero":false},"axis":{"title":"Test Accuracy","values":[0,0.2,0.4,0.6,0.8,1.0],"format":".1f"}},
  "color":{"field":"s","type":"nominal","scale":{"domain":["full_training_ConvNetD4","baseline_ConvNetD4","dist_training_ConvNetD2W8","dist_training_ConvNetD4","dist_training_AdaModel"],"range":["#000000","#008000","#000000","#008000","#ff0000"]},"legend":{"title":null}},
  "strokeDash":{"field":"s","type":"nominal","scale":{"domain":["full_training_ConvNetD4","baseline_ConvNetD4","dist_training_ConvNetD2W8","dist_training_ConvNetD4","dist_training_AdaModel"],"range":[[10.4,4.5],[10.4,4.5],[1,0],[1,0],[18,4.5,2.8,4.5]]},"legend":{"title":null}}}},
 {"data":{"values":[{"t":"1e7"}]},"mark":{"type":"text","align":"right","baseline":"top","dy":36,"fontSize":18.7,"color":"#000000"},"encoding":{"x":{"datum":16157820,"type":"quantitative"},"y":{"datum":0,"type":"quantitative"},"text":{"field":"t","type":"nominal"}}}
]},
{"width":1263,"height":614,"title":"MNIST","layer":[
 {"data":{"name":"mnist"},"mark":{"type":"line","strokeWidth":2.8},"encoding":{
  "x":{"field":"x","type":"quantitative","scale":{"domain":[-203625,4276125],"nice":false,"zero":false},"axis":{"title":"FLOPs","values":[0,500000,1000000,1500000,2000000,2500000,3000000,3500000,4000000],"labelExpr":"format(datum.value/1e6,'.1f')"}},
  "y":{"field":"y","type":"quantitative","scale":{"domain":[0,1.1856],"nice":false,"zero":false},"axis":{"title":"Test Accuracy","values":[0,0.2,0.4,0.6,0.8,1.0],"format":".1f"}},
  "color":{"field":"s","type":"nominal","scale":{"domain":["full_training_ConvNetD4","baseline_ConvNetD4","dist_training_ConvNetD2W8","dist_training_ConvNetD4","dist_training_AdaModel"],"range":["#000000","#008000","#000000","#008000","#ff0000"]},"legend":{"title":null}},
  "strokeDash":{"field":"s","type":"nominal","scale":{"domain":["full_training_ConvNetD4","baseline_ConvNetD4","dist_training_ConvNetD2W8","dist_training_ConvNetD4","dist_training_AdaModel"],"range":[[10.4,4.5],[10.4,4.5],[1,0],[1,0],[18,4.5,2.8,4.5]]},"legend":{"title":null}}}},
 {"data":{"values":[{"t":"1e6"}]},"mark":{"type":"text","align":"right","baseline":"top","dy":36,"fontSize":18.7,"color":"#000000"},"encoding":{"x":{"datum":4276125,"type":"quantitative"},"y":{"datum":0,"type":"quantitative"},"text":{"field":"t","type":"nominal"}}}
]}
],"spacing":100,"resolve":{"scale":{"color":"independent","strokeDash":"independent"}}}
],"spacing":125,"resolve":{"scale":{"color":"independent","strokeDash":"independent"}}},
{"hconcat": [
{"width":572,"height":10,"view":{"stroke":null},"data":{"values":[]},"mark":"point"},
{"width":1262,"height":614,"title":"CIFAR10","layer":[
 {"data":{"name":"cifar"},"mark":{"type":"line","strokeWidth":2.8},"encoding":{
  "x":{"field":"x","type":"quantitative","scale":{"domain":[-38848.5,815818.5],"nice":false,"zero":false},"axis":{"title":"FLOPs","values":[0,100000,200000,300000,400000,500000,600000,700000,800000],"format":"d"}},
  "y":{"field":"y","type":"quantitative","scale":{"domain":[0,1.0248],"nice":false,"zero":false},"axis":{"title":"Test Accuracy","values":[0,0.2,0.4,0.6,0.8,1.0],"format":".1f"}},
  "color":{"field":"s","type":"nominal","scale":{"domain":["full_training_ConvNetD4","baseline_ConvNetD4","dist_training_ConvNetD2W8","dist_training_ConvNetD4","dist_training_AdaModel"],"range":["#000000","#008000","#000000","#008000","#ff0000"]},"legend":{"title":null}},
  "strokeDash":{"field":"s","type":"nominal","scale":{"domain":["full_training_ConvNetD4","baseline_ConvNetD4","dist_training_ConvNetD2W8","dist_training_ConvNetD4","dist_training_AdaModel"],"range":[[10.4,4.5],[10.4,4.5],[1,0],[1,0],[18,4.5,2.8,4.5]]},"legend":{"title":null}}}}
]}
],"spacing":100,"resolve":{"scale":{"color":"independent","strokeDash":"independent"}}}
],
"spacing": 130.3,
"resolve": {"scale": {"color": "independent", "strokeDash": "independent"}},
"config": {
 "font": "DejaVu Sans",
 "view": {"stroke": "#000000", "strokeWidth": 1.5},
 "axis": {"grid": false, "domainColor": "#000000", "domainWidth": 1.5, "tickColor": "#000000", "tickWidth": 1.5, "tickSize": 6.5, "labelPadding": 6.5, "labelFontSize": 18.7, "labelColor": "#000000", "labelFont": "DejaVu Sans", "titleFont": "DejaVu Sans", "titleFontSize": 18.7, "titleFontWeight": "normal", "titleColor": "#000000", "labelFlush": false, "labelOverlap": false},
 "axisX": {"titlePadding": 5},
 "axisY": {"titlePadding": 8},
 "title": {"fontSize": 22.4, "fontWeight": "normal", "color": "#000000", "offset": 7, "font": "DejaVu Sans"},
 "legend": {"orient": "top-left", "offset": 9, "padding": 5.5, "fillColor": "rgba(255,255,255,0.8)", "strokeColor": "#cccccc", "cornerRadius": 4, "symbolType": "M-1,0H3", "symbolSize": 400, "symbolStrokeWidth": 2.8, "labelFontSize": 18.7, "labelFont": "DejaVu Sans", "labelColor": "#000000", "labelOffset": 35, "rowPadding": 6.3, "labelLimit": 400}
}
}
